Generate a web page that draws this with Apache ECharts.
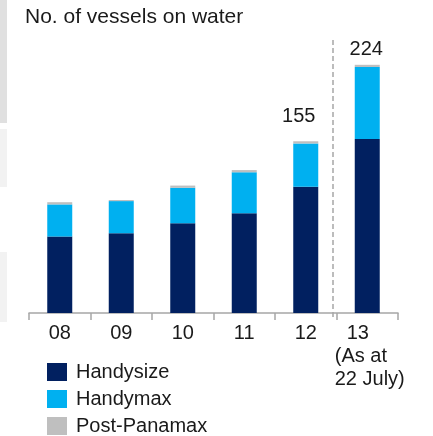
<!DOCTYPE html>
<html>
<head>
<meta charset="utf-8">
<script src="https://cdn.jsdelivr.net/npm/echarts@6/dist/echarts.min.js"></script>
<style>
  html, body { margin: 0; padding: 0; background: #fff; }
  #chart { width: 433px; height: 436px; }
</style>
</head>
<body>
<div id="chart"></div>
<script>
const years = ['08', '09', '10', '11', '12', '13\n(As at\n22 July)']
const handysize = [69, 72, 81, 90, 114, 157]
const handymax = [29, 29, 32, 37, 39, 65]
const postPanamax = [2, 1, 2, 2, 2, 2]
// only the last two bars carry a total on top
const showTotal = [false, false, false, false, true, true]

const font = 'Liberation Sans, Arial, sans-serif'
const ink = '#1a1a1a'

const totals = handysize.map((v, i) => v + handymax[i] + postPanamax[i])

const chart = echarts.init(document.getElementById('chart'))
chart.setOption({
  backgroundColor: '#fff',
  animation: false,
  title: {
    text: 'No. of vessels on water',
    left: 25,
    top: 7,
    padding: 0,
    textStyle: { fontFamily: font, fontSize: 21, fontWeight: 'normal', color: ink }
  },
  legend: {
    orient: 'vertical',
    left: 47,
    top: 362,
    height: 100,
    padding: 0,
    itemWidth: 20,
    itemHeight: 18,
    itemGap: 7,
    icon: 'rect',
    textStyle: { fontFamily: font, fontSize: 20, color: ink, padding: [0, 0, 0, 4] },
    data: ['Handysize', 'Handymax', 'Post-Panamax']
  },
  grid: { left: 29, right: 35, top: 36, bottom: 123 },
  xAxis: {
    type: 'category',
    data: years,
    axisLine: { show: true, lineStyle: { color: '#a6a6a6', width: 1.5 } },
    axisTick: { show: true, interval: 0, alignWithLabel: false, length: 7, lineStyle: { color: '#a6a6a6', width: 1.5 } },
    axisLabel: {
      interval: 0,
      margin: 9,
      fontFamily: font,
      fontSize: 20,
      color: ink,
      lineHeight: 23,
      verticalAlign: 'top',
      // the multi-line 2013 label is left aligned under its bar
      formatter: (v) => {
        if (v.indexOf('\n') < 0) return v
        return v.split('\n').map((s, i) => (i === 0 ? '{c|' + s + '}' : '{l|' + s + '}')).join('\n')
      },
      rich: {
        c: { fontFamily: font, fontSize: 20, color: ink, lineHeight: 23, width: 60, align: 'left', padding: [0, 0, 0, 19] },
        l: { fontFamily: font, fontSize: 20, color: ink, lineHeight: 23, width: 72, align: 'left', padding: [0, 0, 0, 7] }
      }
    }
  },
  yAxis: {
    type: 'value',
    min: 0,
    max: 250,
    show: false,
    splitLine: { show: false }
  },
  series: [
    {
      name: 'Handysize',
      type: 'bar',
      stack: 'v',
      barWidth: 25,
      itemStyle: { color: '#012060' },
      data: handysize
    },
    {
      name: 'Handymax',
      type: 'bar',
      stack: 'v',
      barWidth: 25,
      itemStyle: { color: '#00b0f0' },
      data: handymax
    },
    {
      name: 'Post-Panamax',
      type: 'bar',
      stack: 'v',
      barWidth: 25,
      itemStyle: { color: '#bfbfbf' },
      data: postPanamax.map((v, i) => ({
        value: v,
        label: {
          show: showTotal[i],
          position: 'top',
          distance: i === 4 ? 15 : 5,
          offset: i === 4 ? [-7, 0] : [-1, 0],
          formatter: String(totals[i]),
          fontFamily: font,
          fontSize: 20,
          color: ink
        }
      }))
    }
  ],
  graphic: [
    // light grey strips at the left edge
    { type: 'rect', shape: { x: 0, y: 0, width: 7, height: 123 }, style: { fill: '#e0e0e0' }, silent: true },
    { type: 'rect', shape: { x: 0, y: 129, width: 7, height: 58 }, style: { fill: '#f2f2f2' }, silent: true },
    { type: 'rect', shape: { x: 0, y: 252, width: 7, height: 70 }, style: { fill: '#f2f2f2' }, silent: true },
    // dashed separator before the 2013 bar
    {
      type: 'line',
      shape: { x1: 333, y1: 40, x2: 333, y2: 320 },
      style: { stroke: '#a6a6a6', lineWidth: 1.5, lineDash: [5, 3] },
      silent: true
    }
  ]
})
</script>
</body>
</html>
